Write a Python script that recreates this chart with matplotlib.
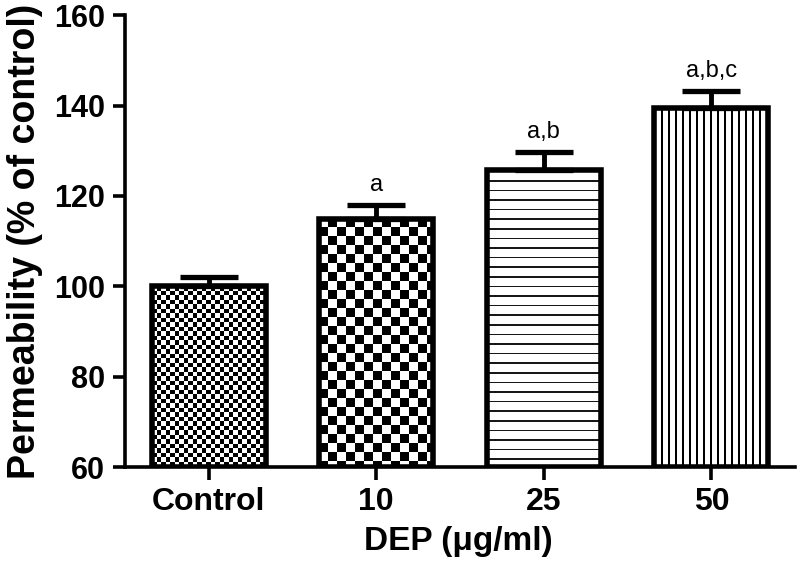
import numpy as np
import matplotlib
matplotlib.use('Agg')
import matplotlib.pyplot as plt

## data
groups = ['Control', '10', '25', '50']
means = [100, 115, 125.7, 139.4]
sem_up = [2, 3, 4.1, 3.8]
marks = ['', 'a', 'a,b', 'a,b,c']

plt.rcParams['font.family'] = ['Liberation Sans', 'DejaVu Sans']

fig = plt.figure(figsize=(8, 5.81), dpi=100)
ax = fig.add_axes([0.156, 0.196, 0.838, 0.778])

x = np.arange(len(groups))
ax.set_xlim(-0.5, 3.5)
ax.set_ylim(60, 160)

## fill patterns, built in pixel units
def checker(ix, iy, cell):
    return ((ix // cell + iy // cell) % 2).astype(float)

def hlines(ix, iy, period, thick):
    return ((iy % period) < thick) * 0.9

def vlines(ix, iy, period, thick):
    return ((ix % period) < thick) * 1.0

patterns = [lambda a, b: checker(a, b, 4.5),
            lambda a, b: checker(a, b, 9),
            lambda a, b: hlines(a, b, 9.6, 1.6),
            lambda a, b: vlines(a, b, 7, 2.0)]

width = 0.68
bars = ax.bar(x, [m - 60 for m in means], width, bottom=60, facecolor='none',
              edgecolor='black', linewidth=4.0, zorder=3)

for i, b in enumerate(bars):
    x0, y0 = b.get_x(), b.get_y()
    x1, y1 = x0 + b.get_width(), y0 + b.get_height()
    p0 = ax.transData.transform((x0, y0))
    p1 = ax.transData.transform((x1, y1))
    nx = int(round(p1[0] - p0[0]))
    ny = int(round(p1[1] - p0[1]))
    ix, iy = np.meshgrid(np.arange(nx), np.arange(ny))
    img = patterns[i](ix, iy)
    ax.imshow(img, cmap='binary', vmin=0, vmax=1, extent=[x0, x1, y0, y1],
              origin='upper', aspect='auto', interpolation='nearest', zorder=2)

ax.set_xlim(-0.5, 3.5)
ax.set_ylim(60, 160)

ax.errorbar(x, means, yerr=[[0] * 4, sem_up], fmt='none', ecolor='black',
            elinewidth=3.5, capsize=21, capthick=3.8, zorder=4)

for i in range(len(groups)):
    if marks[i]:
        ax.annotate(marks[i], (x[i], means[i] + sem_up[i]), xytext=(0, 10),
                    textcoords='offset points', ha='center', va='baseline',
                    fontsize=17)

ax.spines['top'].set_visible(False)
ax.spines['right'].set_visible(False)
ax.spines['left'].set_linewidth(2.6)
ax.spines['bottom'].set_linewidth(2.6)

ax.set_xticks(x)
ax.set_xticklabels(groups, fontsize=23, fontweight='bold')
ax.set_yticks(np.arange(60, 161, 20))
ax.tick_params(axis='y', labelsize=22, length=9, width=2.6, pad=5)
ax.tick_params(axis='x', length=9, width=2.6, pad=5)
for t in ax.get_yticklabels():
    t.set_fontweight('bold')

ax.set_ylabel('Permeability (% of control)', fontsize=27, fontweight='bold')
ax.yaxis.set_label_coords(-0.122, 0.5)
ax.set_xlabel('DEP (\u03bcg/ml)', fontsize=24, fontweight='bold')
ax.xaxis.set_label_coords(0.497, -0.13)

fig.savefig('out.png', dpi=100)
